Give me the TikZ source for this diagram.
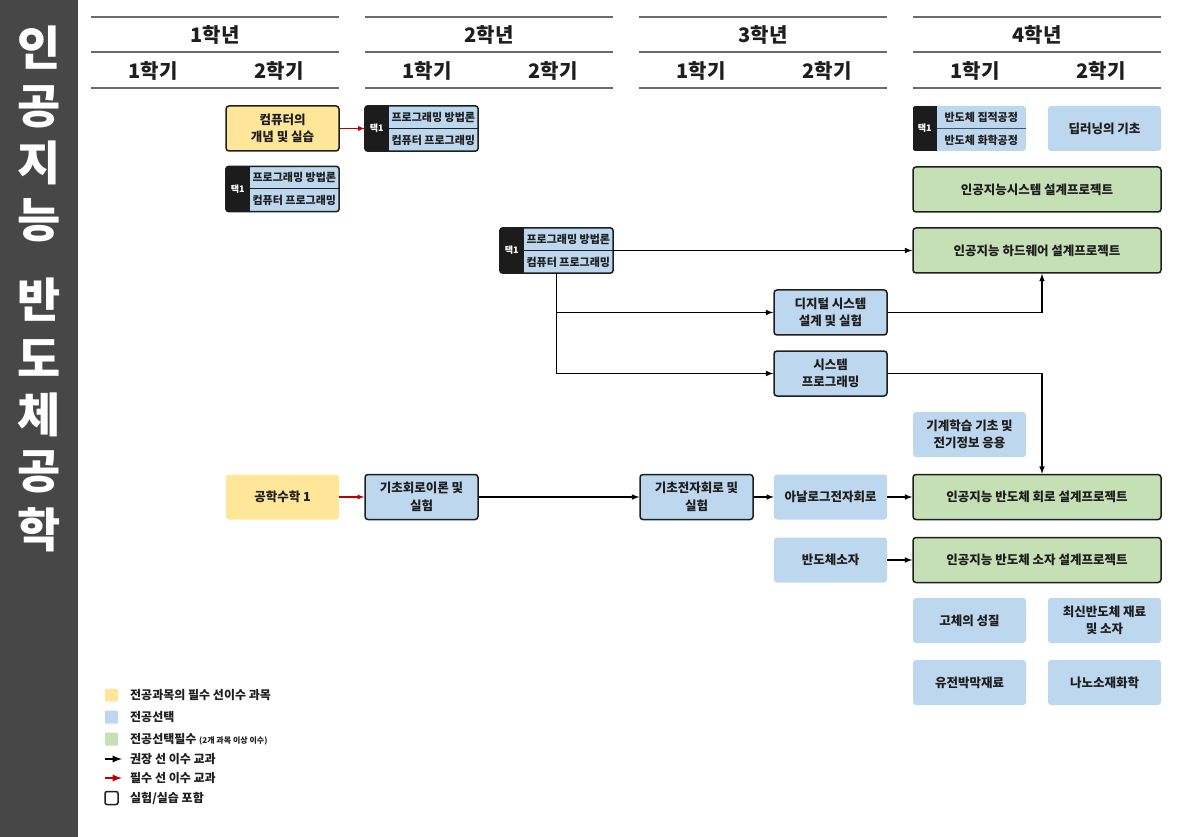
\documentclass[tikz,border=0pt]{standalone}
\usepackage{fontspec}
\setmainfont{Noto Sans CJK KR}
\usepackage{tikz}
\tikzset{>=latex}
\usetikzlibrary{arrows}
\usetikzlibrary{calc}

\definecolor{cYel}{HTML}{FFE699}
\definecolor{cBlue}{HTML}{BDD7EE}
\definecolor{cGreen}{HTML}{C5E0B4}
\definecolor{cTab}{HTML}{1C1C1C}
\definecolor{cSide}{HTML}{474747}
\definecolor{cRule}{HTML}{6A6A6A}
\definecolor{cLine}{HTML}{1E1E1E}
\definecolor{cSep}{HTML}{44546A}
\definecolor{cRed}{HTML}{C00000}
\definecolor{cText}{HTML}{1E1E1E}

\tikzset{
    course/.style={rectangle, rounded corners=3pt, minimum width=113pt, minimum height=45pt,
        inner sep=0pt, align=center, text=cText, font=\bfseries\fontsize{12.5}{17.5}\selectfont},
    wide/.style={course, minimum width=248pt},
    yelbox/.style={fill=cYel},
    bluebox/.style={fill=cBlue},
    greenbox/.style={fill=cGreen},
    labline/.style={draw=cLine, line width=1.5pt},
    noline/.style={draw=none},
    labsep/.style={draw=cLine, line width=1pt},
    softsep/.style={draw=cSep, line width=1.2pt},
    rowtext/.style={inner sep=0pt, text=cText, font=\bfseries\fontsize{11}{13}\selectfont},
    tabtext/.style={inner sep=0pt, text=white, font=\bfseries\fontsize{9}{10}\selectfont},
    rule/.style={draw=cRule, line width=1.5pt},
    yearlabel/.style={inner sep=0pt, text=cText, font=\bfseries\fontsize{20}{24}\selectfont},
    sidechar/.style={inner sep=0pt, text=white, font=\bfseries\fontsize{47}{50}\selectfont},
    rec/.style={->, line width=1.5pt, black},
    req/.style={->, line width=1.3pt, cRed},
    swatch/.style={rectangle, minimum size=13pt, inner sep=0pt, rounded corners=1pt},
    legtext/.style={anchor=west, inner sep=0pt, text=cText, font=\bfseries\fontsize{12}{14}\selectfont}
}

% choice box: name, centre, upper row, lower row, outline, divider
\newcommand{\pickbox}[6]{%
    \node[course, fill=cBlue] (#1) at (#2) {};
    \begin{scope}
        \clip[rounded corners=3pt] (#1.north west) rectangle (#1.south east);
        \fill[cTab] (#1.north west) rectangle ($(#1.south west)+(24,0)$);
    \end{scope}
    \draw[#6] ($(#1.west)+(24,0)$) -- (#1.east);
    \node[tabtext] (#1-t) at ($(#1.west)+(12,0)$) {택1};
    \node[rowtext] (#1-a) at ($(#1.north west)+(68.5,11.5)$) {#3};
    \node[rowtext] (#1-b) at ($(#1.south west)+(68.5,-11)$) {#4};
    \draw[#5, rounded corners=3pt] (#1.north west) rectangle (#1.south east);
}

\begin{document}
\begin{tikzpicture}[x=1pt, y=-1pt]

    \useasboundingbox (0,0) rectangle (1179,837);

    % side bar
    \fill[cSide] (0,0) rectangle (78,837);
    \foreach \ch/\yy in {인/48, 공/107, 지/163, 능/220, 반/300, 도/358, 체/415, 공/472, 학/530}
        \node[sidechar] (side-\yy) at (39,\yy) {\ch};

    % years and terms
    \foreach \i/\yr in {0/1, 1/2, 2/3, 3/4} {
        \draw[rule] (91+274*\i,17) -- (339+274*\i,17);
        \draw[rule] (91+274*\i,52) -- (339+274*\i,52);
        \draw[rule] (91+274*\i,88) -- (339+274*\i,88);
        \node[yearlabel] (year\yr) at (215+274*\i,35) {\yr 학년};
        \node[yearlabel] (term\yr-1) at (153+274*\i,71) {1학기};
        \node[yearlabel] (term\yr-2) at (279+274*\i,71) {2학기};
    }

    % courses
    \node[course, yelbox, labline] (comp) at (282.5,128.5) {컴퓨터의\\개념 및 실습};
    \pickbox{pick1}{421.5,128.5}{프로그래밍 방법론}{컴퓨터 프로그래밍}{labline}{labsep}
    \pickbox{pick0}{282.5,189}{프로그래밍 방법론}{컴퓨터 프로그래밍}{labline}{labsep}
    \pickbox{pick2}{556.5,250.5}{프로그래밍 방법론}{컴퓨터 프로그래밍}{labline}{labsep}
    \pickbox{pick4}{969.5,128.5}{반도체 집적공정}{반도체 화학공정}{noline}{softsep}
    \node[course, bluebox] (deep) at (1104.5,128.5) {딥러닝의 기초};

    \node[wide, greenbox, labline] (aisys) at (1037,189.5) {인공지능시스템 설계프로젝트};
    \node[wide, greenbox, labline] (aihw) at (1037,250.5) {인공지능 하드웨어 설계프로젝트};
    \node[course, bluebox, labline] (digital) at (830.5,312.5) {디지털 시스템\\설계 및 실험};
    \node[course, bluebox, labline] (sysprog) at (830.5,373.5) {시스템\\프로그래밍};
    \node[course, bluebox] (ml) at (969.5,434.5) {기계학습 기초 및\\전기정보 응용};

    \node[course, yelbox] (math) at (282.5,497) {공학수학 1};
    \node[course, bluebox, labline] (circ) at (421.5,497) {기초회로이론 및\\실험};
    \node[course, bluebox, labline] (elec) at (696.5,497) {기초전자회로 및\\실험};
    \node[course, bluebox] (analog) at (830.5,497) {아날로그전자회로};
    \node[wide, greenbox, labline] (aicirc) at (1037,497) {인공지능 반도체 회로 설계프로젝트};

    \node[course, bluebox] (semi) at (830.5,560) {반도체소자};
    \node[wide, greenbox, labline] (aidev) at (1037,560) {인공지능 반도체 소자 설계프로젝트};

    \node[course, bluebox] (solid) at (969.5,620.5) {고체의 성질};
    \node[course, bluebox] (newsemi) at (1104.5,620.5) {최신반도체 재료\\및 소자};
    \node[course, bluebox] (film) at (969.5,682.5) {유전박막재료};
    \node[course, bluebox] (nano) at (1104.5,682.5) {나노소재화학};

    % prerequisites
    \draw[req] (comp) -- (pick1);
    \draw[rec] (pick2) -- (aihw);
    \draw[rec] (pick2.south) |- (digital.west);
    \draw[rec] (pick2.south) |- (sysprog.west);
    \draw[rec] (digital.east) -| ($(aihw.south)+(5,0)$);
    \draw[rec] (sysprog.east) -| ($(aicirc.north)+(5,0)$);
    \draw[req] (math) -- (circ);
    \draw[rec] (circ) -- (elec);
    \draw[rec] (elec) -- (analog);
    \draw[rec] (analog) -- (aicirc);
    \draw[rec] (semi) -- (aidev);

    % legend
    \node[swatch, fill=cYel] (key-y) at (111.5,695) {};
    \node[legtext] (key-y-t) at (130,695) {전공과목의 필수 선이수 과목};
    \node[swatch, fill=cBlue] (key-b) at (111.5,717) {};
    \node[legtext] (key-b-t) at (130,717) {전공선택};
    \node[swatch, fill=cGreen] (key-g) at (111.5,739) {};
    \node[legtext] (key-g-t) at (130,739) {전공선택필수 {\fontsize{8}{9}\selectfont (2개 과목 이상 이수)}};
    \coordinate (key-r1) at (105,759);
    \coordinate (key-r2) at (122,759);
    \draw[rec, line width=2.2pt] (key-r1) -- (key-r2);
    \node[legtext] (key-r-t) at (130,759) {권장 선 이수 교과};
    \coordinate (key-q1) at (105,778);
    \coordinate (key-q2) at (122,778);
    \draw[req, line width=2.2pt] (key-q1) -- (key-q2);
    \node[legtext] (key-q-t) at (130,778) {필수 선 이수 교과};
    \node[swatch, draw=cLine, line width=1.5pt, rounded corners=2pt] (key-l) at (111.5,798) {};
    \node[legtext] (key-l-t) at (130,798) {실험/실습 포함};

\end{tikzpicture}
\end{document}
